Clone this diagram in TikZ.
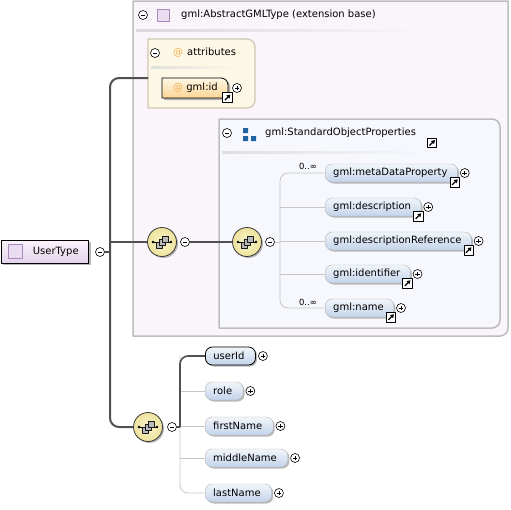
\documentclass[tikz,border=0pt]{standalone}
\usepackage{fontspec}
\setmainfont{DejaVu Sans}
\usetikzlibrary{positioning,calc,shadows,arrows.meta}
\definecolor{extfill}{HTML}{F9F5FA}
\definecolor{boxgray}{HTML}{BDBDBD}
\definecolor{grpfill}{HTML}{F7F8FD}
\definecolor{attrfill}{HTML}{FDF7E6}
\definecolor{attrline}{HTML}{CFC6B4}
\definecolor{elemtop}{HTML}{F2F6FB}
\definecolor{elembot}{HTML}{C3D3EA}
\definecolor{gidtop}{HTML}{FFF7E8}
\definecolor{gidbot}{HTML}{FCD493}
\definecolor{typetop}{HTML}{FAF3FB}
\definecolor{typebot}{HTML}{E4D3EA}
\definecolor{ballfill}{HTML}{FBF6CC}
\definecolor{balledge}{HTML}{EDE19C}
\definecolor{linedark}{HTML}{505050}
\definecolor{linelight}{HTML}{C6C6C6}
\definecolor{atorange}{HTML}{F0B050}
\definecolor{grpblue}{HTML}{2062A4}
\definecolor{sqfill}{HTML}{EBDDF1}
\definecolor{sqline}{HTML}{A98BBB}
\newcommand{\elemfont}{\fontsize{10}{12}\selectfont}
\newcommand{\cardfont}{\fontsize{8.5}{10}\selectfont}
\tikzset{
  elem/.style={draw=gray!60, rounded corners=7pt, top color=elemtop, bottom color=elembot,
    minimum height=18pt, inner xsep=8pt, inner ysep=0pt, anchor=west, font=\elemfont,
    drop shadow={shadow xshift=1.5pt, shadow yshift=-1.5pt, fill=gray!70, opacity=.8}},
  keyelem/.style={elem, draw=black, line width=0.8pt},
  typebox/.style={draw=black, line width=0.8pt, top color=typetop, bottom color=typebot,
    minimum height=23pt, inner xsep=10pt, inner ysep=0pt, anchor=west, font=\elemfont,
    drop shadow={shadow xshift=2pt, shadow yshift=-2pt, fill=gray!70, opacity=.8}},
  seqnode/.style={circle, draw=gray!45!black, line width=0.8pt, inner sep=0pt, minimum size=29pt,
    inner color=ballfill, outer color=balledge,
    drop shadow={shadow xshift=1.5pt, shadow yshift=-1.5pt, fill=gray!70, opacity=.8}},
  btn/.style={circle, draw, fill=white, line width=0.6pt, minimum size=9pt, inner sep=0pt},
  minusbtn/.style={btn, path picture={\draw[line width=0.6pt]
    ([xshift=-2.3pt]path picture bounding box.center) -- ([xshift=2.3pt]path picture bounding box.center);}},
  plusbtn/.style={btn, path picture={\draw[line width=0.6pt]
    ([xshift=-2.3pt]path picture bounding box.center) -- ([xshift=2.3pt]path picture bounding box.center)
    ([yshift=-2.3pt]path picture bounding box.center) -- ([yshift=2.3pt]path picture bounding box.center);}},
  linkbtn/.style={draw, fill=white, line width=0.6pt, minimum size=9.5pt, inner sep=0pt,
    path picture={\draw[line width=1.3pt, -{Triangle[length=3.4pt,width=4.2pt]}]
    ([shift={(-2.6pt,-2.6pt)}]path picture bounding box.center) -- ([shift={(2.9pt,2.9pt)}]path picture bounding box.center);}},
  mainline/.style={draw=linedark, line width=2pt},
  midline/.style={draw=linedark, line width=1.6pt},
  thinline/.style={draw=linelight, line width=0.8pt},
  headtext/.style={anchor=west, inner sep=0pt, font=\elemfont}
}
\newcommand{\seqsym}[1]{%
  \draw[line width=0.8pt] ($(#1)+(-9,0)$) -- ($(#1)+(9,0)$);
  \fill ($(#1)+(-9,0)$) circle (1.4pt) ($(#1)+(9,0)$) circle (1.4pt);
  \foreach \dx/\dy in {-3/3, 0/0, 3/-3}
    \draw[fill=gray!55, draw=gray!20!black, line width=0.5pt] ($(#1)+(\dx-3,\dy-3)$) rectangle ($(#1)+(\dx+3,\dy+3)$);
}

\begin{document}
\begin{tikzpicture}[x=1pt, y=-1pt, line join=round]
\useasboundingbox (0,0) rectangle (511,509);

% extension base
\draw[fill=extfill, draw=boxgray, line width=1.5pt] (133,1) -- (508,1) -- (508,200) [rounded corners=8pt] -- (508,336) -- (300,336) [sharp corners] -- (133,336) -- cycle;
\node[minusbtn] (ext-m) at (143,15) {};
\draw[fill=sqfill, draw=sqline] (157,9) rectangle (169,21);
\node[headtext] (ext-t) at (181,15) {gml:AbstractGMLType (extension base)};
\shade[left color=gray!30, right color=extfill] (136,29.5) rectangle (420,31.5);

% attributes
\draw[fill=attrfill, draw=attrline, line width=1.2pt] (148,39) -- (200,39) [rounded corners=8pt] -- (255,39) -- (255,108) -- (200,108) [sharp corners] -- (148,108) -- cycle;
\node[minusbtn] (attr-m) at (155,53) {};
\node[headtext] (attr-t) at (173,53) {\textcolor{atorange}{@}\hspace{4pt}attributes};
\shade[left color=gray!25, right color=attrfill] (151,66.5) rectangle (235,68.5);
\fill[gray!60] (164,80) -- (200,80) [rounded corners=7pt] -- (230,80) -- (230,92) [sharp corners] -- (230,100) -- (164,100) -- cycle;
\draw[top color=gidtop, bottom color=gidbot, draw=black, line width=0.8pt] (162,78) -- (200,78) [rounded corners=7pt] -- (228,78) -- (228,90) [sharp corners] -- (228,98) -- (162,98) -- cycle;
\node[headtext] (gid) at (173,88) {\textcolor{atorange}{@} gml:id};
\node[linkbtn] (gid-l) at (227.5,97.5) {};
\node[plusbtn] (gid-p) at (237,88) {};

% group
\draw[fill=grpfill, draw=boxgray, line width=1.5pt] (219,119) -- (400,119) [rounded corners=8pt] -- (500,119) -- (500,328) -- (400,328) [sharp corners] -- (219,328) -- cycle;
\node[minusbtn] (grp-m) at (227,133) {};
\fill[grpblue] (243,128) rectangle (248,133) (243,136) rectangle (248,141) (251,136) rectangle (256,141);
\node[headtext] (grp-t) at (265,133) {gml:StandardObjectProperties};
\node[linkbtn] (grp-l) at (432,143) {};
\shade[left color=gray!25, right color=grpfill] (222,151) rectangle (430,153);

\foreach \y/\name/\txt in {173/mdp/gml:metaDataProperty, 207/desc/gml:description, 241/dref/gml:descriptionReference, 274/ident/gml:identifier, 308/gname/gml:name}
{
  \node[elem] (\name) at (325,\y) {\txt\hspace*{2pt}};
  \node[linkbtn] (\name-l) at ($(\name.south east)+(-3,0)$) {};
  \node[plusbtn] (\name-p) at ($(\name.east)+(7,0)$) {};
}
\node[font=\cardfont, inner sep=0pt] (mdp-n) at (308,166) {0..∞};
\node[font=\cardfont, inner sep=0pt] (gname-n) at (308,302) {0..∞};

% type and compositors
\node[typebox] (utype) at (0.5,251.5) {\hspace{22pt}UserType};
\draw[fill=sqfill, draw=sqline] ($(utype.west)+(8,-7)$) rectangle +(14,14);
\node[minusbtn] (ut-m) at (100,252) {};

\node[seqnode] (c1) at (162,242) {}; \seqsym{c1}
\node[minusbtn] (c1-m) at (185,242) {};
\node[seqnode] (c2) at (247,242) {}; \seqsym{c2}
\node[minusbtn] (c2-m) at (270,242) {};
\node[seqnode] (c3) at (148,427) {}; \seqsym{c3}
\node[minusbtn] (c3-m) at (172,427) {};

\node[keyelem] (uid) at (205,356) {userId\hspace*{3pt}};
\node[plusbtn] (uid-p) at ($(uid.east)+(7,0)$) {};
\foreach \y/\name/\txt in {391/role/role, 426/fname/firstName, 458/mname/middleName, 493/lname/lastName}
{
  \node[elem] (\name) at (205,\y) {\txt\hspace*{3pt}};
  \node[plusbtn] (\name-p) at ($(\name.east)+(7,0)$) {};
}

% connectors
\coordinate (spine) at (110,242);
\coordinate (attr-in) at (148,78);
\coordinate (seq2) at (280,242);
\coordinate (seq3) at (180,427);

\draw[thinline, rounded corners=8pt] (mdp.west) -| (seq2) |- (gname.west);
\foreach \n in {desc, dref, ident} \draw[thinline] (\n.west -| seq2) -- (\n.west);
\draw[thinline] (c2-m) -- (seq2);
\draw[thinline, rounded corners=8pt] (uid.west -| seq3) |- (lname.west);
\foreach \n in {role, fname, mname} \draw[thinline] (\n.west -| seq3) -- (\n.west);

\draw[mainline, rounded corners=9pt] (attr-in) -| (spine) |- (c3);
\draw[mainline] (spine) -- (c1);
\draw[mainline] (ut-m) -- (ut-m -| spine);
\draw[midline] (c1-m) -- (c2);
\draw[midline] (c3-m) -- (seq3);
\draw[midline, rounded corners=8pt] (seq3) |- (uid.west);
\end{tikzpicture}
\end{document}
